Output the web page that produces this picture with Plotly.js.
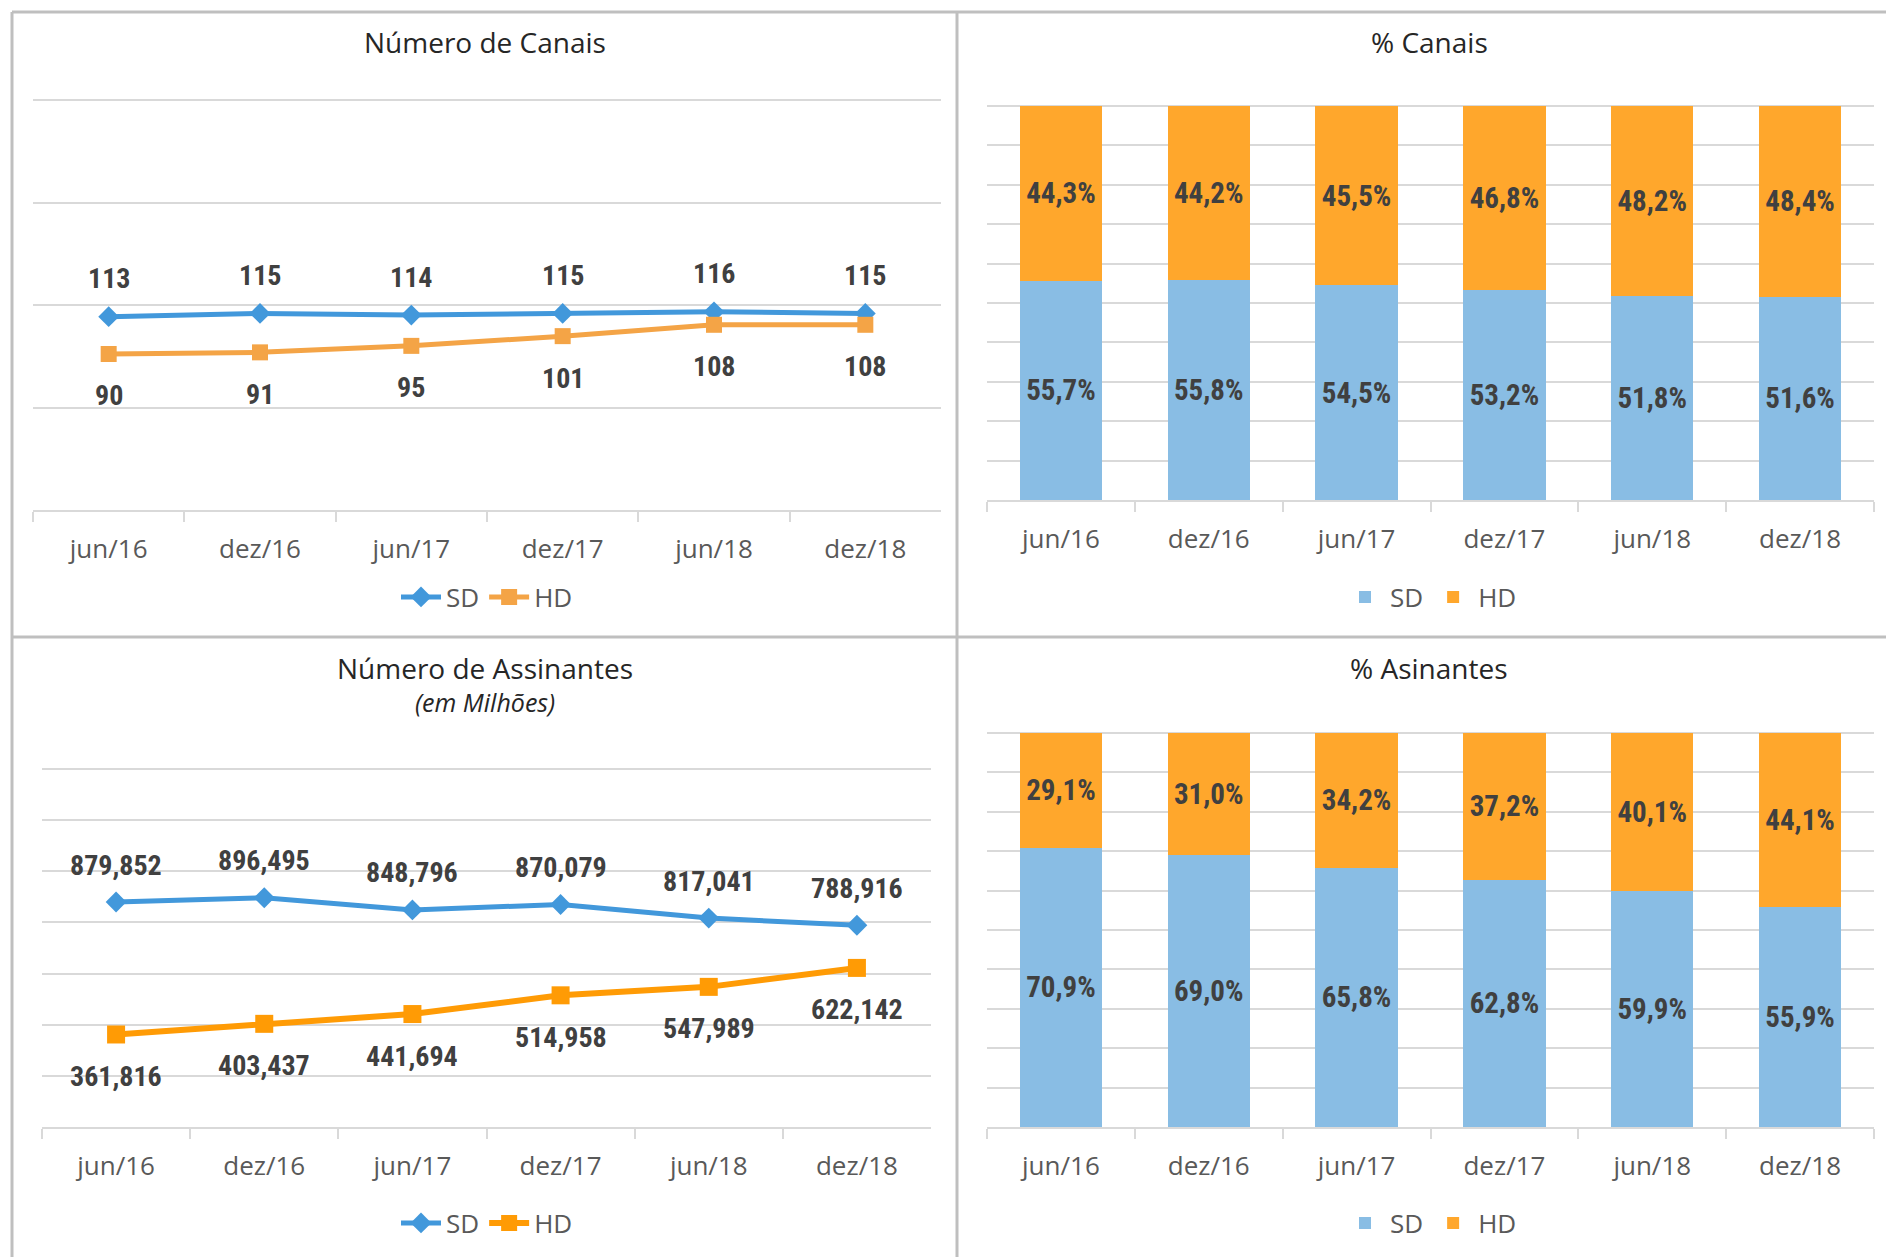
<!DOCTYPE html>
<html>
<head>
<meta charset="utf-8">
<script src="https://cdn.plot.ly/plotly-3.0.1.min.js"></script>
<style>
  html, body { margin: 0; padding: 0; background: #ffffff; }
  #chart { width: 1886px; height: 1257px; }
</style>
</head>
<body>
<div id="chart"></div>
<script>
// ---------------- DATA ----------------
const categories = ['jun/16', 'dez/16', 'jun/17', 'dez/17', 'jun/18', 'dez/18'];

const canaisSD = [113, 115, 114, 115, 116, 115];
const canaisHD = [90, 91, 95, 101, 108, 108];

const pctCanaisSD = [55.7, 55.8, 54.5, 53.2, 51.8, 51.6];
const pctCanaisHD = [44.3, 44.2, 45.5, 46.8, 48.2, 48.4];

const assinantesSD = [879852, 896495, 848796, 870079, 817041, 788916];
const assinantesHD = [361816, 403437, 441694, 514958, 547989, 622142];

const pctAssinantesSD = [70.9, 69.0, 65.8, 62.8, 59.9, 55.9];
const pctAssinantesHD = [29.1, 31.0, 34.2, 37.2, 40.1, 44.1];

const titles = ['Número de Canais', '% Canais', 'Número de Assinantes', '% Asinantes'];
const subtitle = '(em Milhões)';
const seriesNames = ['SD', 'HD'];

// ---------------- STYLE ----------------
const W = 1886, H = 1257;
const px = v => v / W;
const py = v => 1 - v / H;

const BASE = 'Open Sans, Noto Sans, sans-serif';
const NARROW = 'Liberation Sans Narrow, Roboto Condensed, Open Sans, sans-serif';
const GRID = '#D9D9D9';
const TICK = '#595959';
const LABEL = '#404040';
const BLUE_LINE = '#4298DB';
const ORANGE_LINE1 = '#F4A446';
const ORANGE_LINE2 = '#FF9B05';
const BLUE_BAR = '#89BDE4';
const ORANGE_BAR = '#FFA72C';

const fmtPct = v => v.toFixed(1).replace('.', ',') + '%';
const fmtThousands = v => v.toLocaleString('en-US');

function xaxisDef(x0, x1, anchor) {
  return {
    domain: [px(x0), px(x1)], anchor: anchor, type: 'category',
    range: [-0.5, categories.length - 0.5],
    showline: true, linecolor: GRID, linewidth: 2,
    ticks: 'outside', tickson: 'boundaries', ticklen: 10, tickcolor: GRID, tickwidth: 2,
    showgrid: false, zeroline: false, fixedrange: true,
    tickfont: { family: BASE, size: 26, color: TICK },
    ticklabelstandoff: 15
  };
}
// y0 = pixel of top gridline, y1 = pixel of axis line; domain is padded upward a few px
// so the top gridline is kept inside the plot area.
function yaxisDef(y0, y1, anchor, range, tickvals) {
  const pad = 6;
  const perPx = (range[1] - range[0]) / (y1 - y0);
  return {
    domain: [py(y1), py(y0 - pad)], anchor: anchor, range: [range[0], range[1] + pad * perPx],
    tickvals: tickvals, showticklabels: false, ticks: '',
    showgrid: true, gridcolor: GRID, gridwidth: 2,
    zeroline: false, showline: false, fixedrange: true
  };
}

const p1Range = [-6.2, 246.6];
const p1Ticks = [0, 1, 2, 3, 4].map(k => p1Range[0] + k * (p1Range[1] - p1Range[0]) / 4);

const traces = [
  // Panel 1: Número de Canais
  { type: 'scatter', mode: 'lines+markers', name: seriesNames[0], x: categories, y: canaisSD,
    xaxis: 'x', yaxis: 'y', legend: 'legend',
    line: { color: BLUE_LINE, width: 5 }, marker: { symbol: 'diamond', size: 16, color: BLUE_LINE } },
  { type: 'scatter', mode: 'lines+markers', name: seriesNames[1], x: categories, y: canaisHD,
    xaxis: 'x', yaxis: 'y', legend: 'legend',
    line: { color: ORANGE_LINE1, width: 5 }, marker: { symbol: 'square', size: 16, color: ORANGE_LINE1 } },

  // Panel 2: % Canais
  { type: 'bar', name: seriesNames[0], x: categories, y: pctCanaisSD, xaxis: 'x2', yaxis: 'y2', legend: 'legend2',
    marker: { color: BLUE_BAR }, text: pctCanaisSD.map(fmtPct), textposition: 'inside',
    insidetextanchor: 'middle', constraintext: 'none',
    textfont: { family: NARROW, size: 29, color: LABEL, weight: 700 }, hoverinfo: 'skip' },
  { type: 'bar', name: seriesNames[1], x: categories, y: pctCanaisHD, xaxis: 'x2', yaxis: 'y2', legend: 'legend2',
    marker: { color: ORANGE_BAR }, text: pctCanaisHD.map(fmtPct), textposition: 'inside',
    insidetextanchor: 'middle', constraintext: 'none',
    textfont: { family: NARROW, size: 29, color: LABEL, weight: 700 }, hoverinfo: 'skip' },

  // Panel 3: Número de Assinantes
  { type: 'scatter', mode: 'lines+markers', name: seriesNames[0], x: categories, y: assinantesSD,
    xaxis: 'x3', yaxis: 'y3', legend: 'legend3',
    line: { color: BLUE_LINE, width: 5 }, marker: { symbol: 'diamond', size: 16, color: BLUE_LINE } },
  { type: 'scatter', mode: 'lines+markers', name: seriesNames[1], x: categories, y: assinantesHD,
    xaxis: 'x3', yaxis: 'y3', legend: 'legend3',
    line: { color: ORANGE_LINE2, width: 6 }, marker: { symbol: 'square', size: 18, color: ORANGE_LINE2 } },

  // Panel 4: % Asinantes
  { type: 'bar', name: seriesNames[0], x: categories, y: pctAssinantesSD, xaxis: 'x4', yaxis: 'y4', legend: 'legend4',
    marker: { color: BLUE_BAR }, text: pctAssinantesSD.map(fmtPct), textposition: 'inside',
    insidetextanchor: 'middle', constraintext: 'none',
    textfont: { family: NARROW, size: 29, color: LABEL, weight: 700 }, hoverinfo: 'skip' },
  { type: 'bar', name: seriesNames[1], x: categories, y: pctAssinantesHD, xaxis: 'x4', yaxis: 'y4', legend: 'legend4',
    marker: { color: ORANGE_BAR }, text: pctAssinantesHD.map(fmtPct), textposition: 'inside',
    insidetextanchor: 'middle', constraintext: 'none',
    textfont: { family: NARROW, size: 29, color: LABEL, weight: 700 }, hoverinfo: 'skip' }
];

const labelFont = { family: NARROW, size: 28, color: LABEL, weight: 700 };
const annotations = [];
function pointLabels(xref, yref, vals, fmt, shift) {
  vals.forEach((v, i) => annotations.push({
    xref: xref, yref: yref, x: categories[i], y: v, text: fmt(v),
    showarrow: false, yshift: shift, font: labelFont, xanchor: 'center', yanchor: 'middle'
  }));
}
pointLabels('x', 'y', canaisSD, String, 38);
pointLabels('x', 'y', canaisHD, String, -42);
pointLabels('x3', 'y3', assinantesSD, fmtThousands, 37);
pointLabels('x3', 'y3', assinantesHD, fmtThousands, -42);

function titleAnn(text, cx, cy, size, italic) {
  annotations.push({ xref: 'paper', yref: 'paper', x: px(cx), y: py(cy), text: text, showarrow: false,
    xanchor: 'center', yanchor: 'middle',
    font: { family: BASE, size: size, color: '#262626', style: italic ? 'italic' : 'normal' } });
}
titleAnn(titles[0], 485, 42, 28);
titleAnn(titles[1], 1429, 42, 28);
titleAnn(titles[2], 485, 668, 28);
titleAnn(subtitle, 485, 702, 25, true);
titleAnn(titles[3], 1429, 668, 28);

const borderColor = '#BFBFBF';
const shapes = [
  { type: 'line', xref: 'paper', yref: 'paper', x0: px(12), x1: 1, y0: py(12), y1: py(12), line: { color: borderColor, width: 3 } },
  { type: 'line', xref: 'paper', yref: 'paper', x0: px(12), x1: px(12), y0: py(12), y1: 0, line: { color: borderColor, width: 3 } },
  { type: 'line', xref: 'paper', yref: 'paper', x0: px(957), x1: px(957), y0: py(12), y1: 0, line: { color: borderColor, width: 3 } },
  { type: 'line', xref: 'paper', yref: 'paper', x0: px(12), x1: 1, y0: py(637), y1: py(637), line: { color: borderColor, width: 3 } }
];

function legendDef(cx, cy) {
  return { orientation: 'h', x: px(cx), y: py(cy), xanchor: 'center', yanchor: 'middle',
    traceorder: 'normal',
    font: { family: BASE, size: 26, color: TICK }, bgcolor: 'rgba(0,0,0,0)', itemwidth: 40 };
}

const layout = {
  width: W, height: H,
  margin: { l: 0, r: 0, t: 0, b: 0 },
  paper_bgcolor: '#ffffff', plot_bgcolor: '#ffffff',
  showlegend: true,
  barmode: 'stack', bargap: 0.444,
  font: { family: BASE },
  xaxis: xaxisDef(33, 941, 'y'),
  yaxis: yaxisDef(100, 510, 'x', p1Range, p1Ticks),
  xaxis2: xaxisDef(987, 1874, 'y2'),
  yaxis2: yaxisDef(106, 500, 'x2', [0, 100], [0, 10, 20, 30, 40, 50, 60, 70, 80, 90, 100]),
  xaxis3: xaxisDef(42, 931, 'y3'),
  yaxis3: yaxisDef(769, 1127, 'x3', [0, 1400000], [0, 200000, 400000, 600000, 800000, 1000000, 1200000, 1400000]),
  xaxis4: xaxisDef(987, 1874, 'y4'),
  yaxis4: yaxisDef(733, 1127, 'x4', [0, 100], [0, 10, 20, 30, 40, 50, 60, 70, 80, 90, 100]),
  legend: legendDef(487, 597),
  legend2: legendDef(1431, 597),
  legend3: legendDef(487, 1223),
  legend4: legendDef(1431, 1223),
  annotations: annotations,
  shapes: shapes
};

Plotly.newPlot('chart', traces, layout, { displayModeBar: false, staticPlot: true });
</script>
</body>
</html>
